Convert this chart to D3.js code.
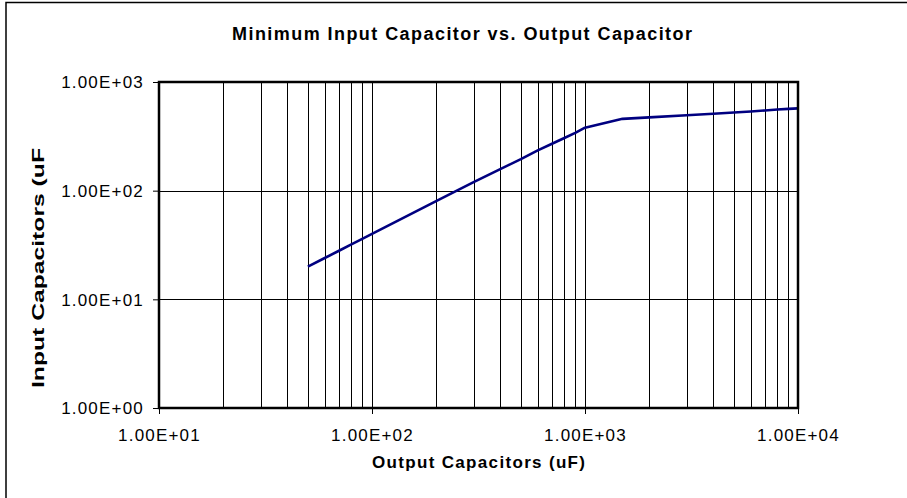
<!DOCTYPE html>
<html>
<head>
<meta charset="utf-8">
<script src="https://cdn.jsdelivr.net/npm/d3@7"></script>
<style>
  html, body { margin: 0; padding: 0; background: #fff; }
  svg { display: block; font-family: "Liberation Sans", Arial, sans-serif; }
</style>
</head>
<body>
<div id="chart"></div>
<script>
// output capacitor (uF) vs minimum input capacitor (uF)
const outCap = [50, 60, 70, 80, 90, 100, 200, 300, 400, 500, 600, 700, 800, 900, 1000,
                1500, 2000, 3000, 4000, 5000, 6000, 7000, 8000, 9000, 10000];
const inCap = [20, 24, 28, 32, 36, 40, 80, 120, 158, 195, 235, 270, 305, 340, 380,
               458, 473, 494, 511, 524, 536, 547, 558, 566, 572];

const xTicks = [10, 100, 1000, 10000];
const xTickLabels = ["1.00E+01", "1.00E+02", "1.00E+03", "1.00E+04"];
const yTicks = [1, 10, 100, 1000];
const yTickLabels = ["1.00E+00", "1.00E+01", "1.00E+02", "1.00E+03"];

const chartTitle = "Minimum Input Capacitor vs. Output Capacitor";
const xTitle = "Output Capacitors (uF)";
const yTitle = "Input Capacitors (uF";

const width = 907, height = 498;
const plot = { left: 159, right: 798, top: 82, bottom: 408 };

const svg = d3.select("#chart").append("svg")
    .attr("width", width)
    .attr("height", height);

// outer chart border (right/bottom edges fall outside the picture)
svg.append("rect")
    .attr("x", 6).attr("y", 2.5)
    .attr("width", width + 10).attr("height", height + 10)
    .attr("fill", "#fff")
    .attr("stroke", "#000")
    .attr("stroke-width", 1.5);

const x = d3.scaleLog().domain([10, 10000]).range([plot.left, plot.right]);
const y = d3.scaleLog().domain([1, 1000]).range([plot.bottom, plot.top]);

// gridlines
const grid = svg.append("g");
grid.selectAll(".vgrid")
    .data(x.ticks())
    .join("line")
    .attr("x1", d => Math.round(x(d)) + 0.5).attr("x2", d => Math.round(x(d)) + 0.5)
    .attr("y1", plot.top).attr("y2", plot.bottom)
    .attr("stroke", "#000")
    .attr("stroke-width", 1);
grid.selectAll(".hgrid")
    .data(yTicks)
    .join("line")
    .attr("x1", plot.left).attr("x2", plot.right)
    .attr("y1", d => Math.round(y(d)) + 0.5).attr("y2", d => Math.round(y(d)) + 0.5)
    .attr("stroke", "#000")
    .attr("stroke-width", 1);

// axes
const xAxis = svg.append("g")
    .attr("transform", `translate(0,${plot.bottom})`)
    .call(d3.axisBottom(x)
        .tickValues(xTicks)
        .tickFormat((d, i) => xTickLabels[i])
        .tickSizeInner(6).tickSizeOuter(0).tickPadding(15));
const yAxis = svg.append("g")
    .attr("transform", `translate(${plot.left},0)`)
    .call(d3.axisLeft(y)
        .tickValues(yTicks)
        .tickFormat((d, i) => yTickLabels[i])
        .tickSizeInner(6).tickSizeOuter(0).tickPadding(9));

[xAxis, yAxis].forEach(g => {
    g.select(".domain").remove();
    g.selectAll(".tick line").attr("stroke", "#000");
    g.selectAll("text")
        .attr("fill", "#000")
        .attr("font-family", "Liberation Sans, Arial, sans-serif")
        .attr("font-size", "17px")
        .attr("letter-spacing", "1.2px");
});
yAxis.selectAll("text").attr("dy", "0.34em");

// data line
const line = d3.line()
    .x((d, i) => x(outCap[i]))
    .y((d, i) => y(inCap[i]));

svg.append("path")
    .datum(inCap)
    .attr("d", line)
    .attr("fill", "none")
    .attr("stroke", "#000080")
    .attr("stroke-width", 2.6)
    .attr("stroke-linejoin", "round");

// plot frame
svg.append("rect")
    .attr("x", plot.left).attr("y", plot.top)
    .attr("width", plot.right - plot.left)
    .attr("height", plot.bottom - plot.top)
    .attr("fill", "none")
    .attr("stroke", "#000")
    .attr("stroke-width", 2.5);

// titles
svg.append("text")
    .attr("x", 462).attr("y", 39.5)
    .attr("text-anchor", "middle")
    .attr("font-size", "18px")
    .attr("font-weight", "bold")
    .attr("textLength", 460)
    .attr("lengthAdjust", "spacing")
    .text(chartTitle);

svg.append("text")
    .attr("x", 478.5).attr("y", 468)
    .attr("text-anchor", "middle")
    .attr("font-size", "17px")
    .attr("font-weight", "bold")
    .attr("textLength", 213)
    .attr("lengthAdjust", "spacing")
    .text(xTitle);

svg.append("text")
    .attr("transform", "translate(43.5,268) rotate(-90)")
    .attr("text-anchor", "middle")
    .attr("font-size", "17px")
    .attr("font-weight", "bold")
    .attr("textLength", 240)
    .attr("lengthAdjust", "spacingAndGlyphs")
    .text(yTitle);
</script>
</body>
</html>
